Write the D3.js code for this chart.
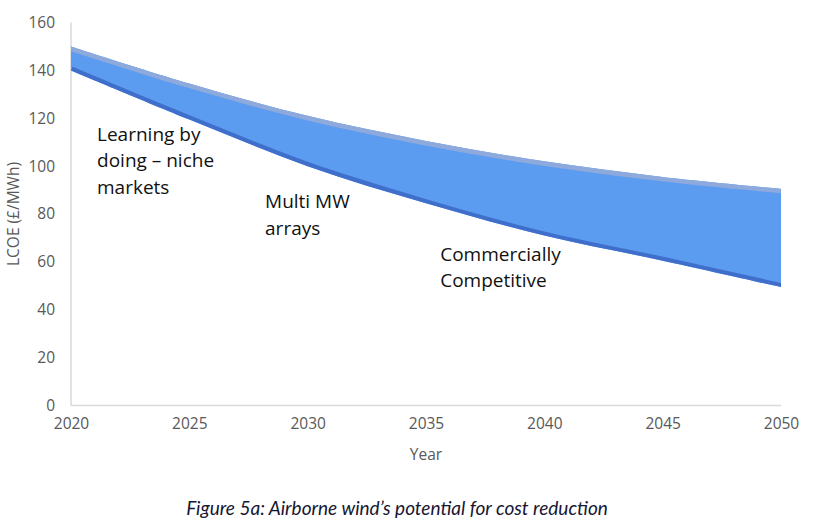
<!DOCTYPE html>
<html><head><meta charset="utf-8">
<script src="https://cdn.jsdelivr.net/npm/d3@7"></script>
<style>body{margin:0;background:#fff}svg{display:block}</style>
</head><body>
<svg id="c" width="818" height="530"></svg>
<script>
const years = [2020, 2025, 2030, 2035, 2040, 2045, 2050];
const upperLCOE = [150, 134.5, 121, 110.5, 102, 95.5, 90.5];
const lowerLCOE = [140, 119.5, 100, 84.5, 71, 60.5, 49.5];
const yTicks = [0, 20, 40, 60, 80, 100, 120, 140, 160];
const xTicks = [2020, 2025, 2030, 2035, 2040, 2045, 2050];
const annotations = [
  {lines: ["Learning by", "doing \u2013 niche", "markets"], year: 2021.1, value: 110.5},
  {lines: ["Multi MW", "arrays"], year: 2028.2, value: 82.5},
  {lines: ["Commercially", "Competitive"], year: 2035.6, value: 60.5}
];
const caption = "Figure 5a: Airborne wind\u2019s potential for cost reduction";

const svg = d3.select("#c");
const x = d3.scaleLinear().domain([2020, 2050]).range([71, 781]);
const y = d3.scaleLinear().domain([0, 160]).range([405.5, 22.5]);
const data = years.map((yr, i) => ({yr, up: upperLCOE[i], lo: lowerLCOE[i]}));
const curve = d3.curveCatmullRom.alpha(0.5);

const areaGen = d3.area().x(d => x(d.yr)).y0(d => y(d.lo)).y1(d => y(d.up)).curve(curve);
const upLine = d3.line().x(d => x(d.yr)).y(d => y(d.up)).curve(curve);
const loLine = d3.line().x(d => x(d.yr)).y(d => y(d.lo)).curve(curve);

svg.append("clipPath").attr("id", "bandclip").append("path").attr("d", areaGen(data));

// axes lines
svg.append("line").attr("x1", x(2020)).attr("x2", x(2020)).attr("y1", y(160)).attr("y2", y(0))
  .attr("stroke", "#d9d9d9").attr("stroke-width", 1.5);
svg.append("line").attr("x1", x(2020)).attr("x2", x(2050)).attr("y1", y(0)).attr("y2", y(0))
  .attr("stroke", "#d9d9d9").attr("stroke-width", 1.5);

svg.append("path").attr("d", areaGen(data)).attr("fill", "#5b9cf0");
svg.append("path").attr("d", upLine(data)).attr("fill", "none").attr("stroke", "#8eaadd")
  .attr("stroke-width", 9).attr("clip-path", "url(#bandclip)");
svg.append("path").attr("d", loLine(data)).attr("fill", "none").attr("stroke", "#3f6fcb")
  .attr("stroke-width", 8).attr("clip-path", "url(#bandclip)");

const font = "'Open Sans', sans-serif";
const yAxis = d3.axisLeft(y).tickValues(yTicks).tickSize(0).tickPadding(16);
const gy = svg.append("g").attr("transform", `translate(${x(2020)},0)`).call(yAxis);
gy.select(".domain").remove();
gy.selectAll("text").attr("font-family", font).attr("font-size", 15.5).attr("fill", "#595959");

const xAxis = d3.axisBottom(x).tickValues(xTicks).tickFormat(d3.format("d")).tickSize(0).tickPadding(12);
const gx = svg.append("g").attr("transform", `translate(0,${y(0)})`).call(xAxis);
gx.select(".domain").remove();
gx.selectAll("text").attr("font-family", font).attr("font-size", 15.5).attr("fill", "#595959");

svg.append("text").attr("x", x(2035)).attr("y", 460).attr("text-anchor", "middle")
  .attr("font-family", font).attr("font-size", 15.5).attr("fill", "#595959").text("Year");
svg.append("text").attr("transform", `translate(19,214) rotate(-90)`).attr("text-anchor", "middle")
  .attr("font-family", font).attr("font-size", 15.5).attr("fill", "#595959").text("LCOE (\u00a3/MWh)");

annotations.forEach(a => {
  const t = svg.append("text").attr("font-family", font).attr("font-size", 19).attr("fill", "#111");
  a.lines.forEach((ln, i) => {
    t.append("tspan").attr("x", x(a.year)).attr("y", y(a.value) + i * 26.5).text(ln);
  });
});

svg.append("text").attr("x", 397).attr("y", 515).attr("text-anchor", "middle")
  .attr("font-family", "Lato, sans-serif").attr("font-style", "italic").attr("font-size", 19)
  .attr("fill", "#161633").text(caption);
</script>
</body></html>
